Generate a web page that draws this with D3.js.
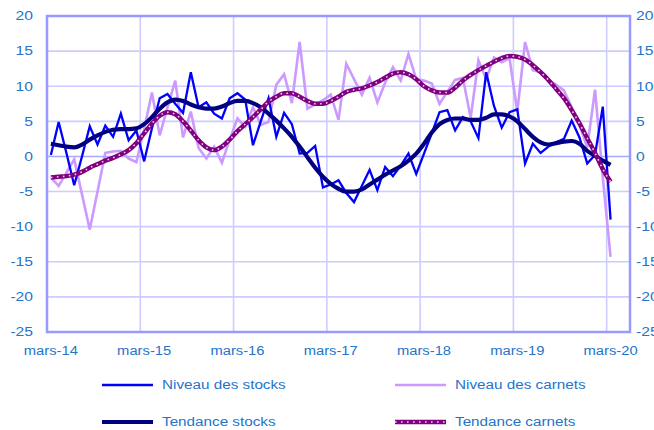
<!DOCTYPE html>
<html>
<head>
<meta charset="utf-8">
<script src="https://cdn.jsdelivr.net/npm/d3@7"></script>
<style>
  body { margin: 0; background: #fff; }
  text { font-family: "Liberation Sans", Arial, sans-serif; fill: #2474cc; }
</style>
</head>
<body>
<div id="chart"></div>
<script>
// mars-14 .. mai-20 on the axis, data stops at mars-20
const axisMonths = 75;
const tickLabels = ["mars-14", "mars-15", "mars-16", "mars-17", "mars-18", "mars-19", "mars-20"];
const yTicks = [20, 15, 10, 5, 0, -5, -10, -15, -20, -25];

const niveauStocks = [
  0.2, 4.9, 0.5, -4.1, 0.0, 4.3, 1.7, 4.4, 2.8, 6.1, 2.3, 3.7,
  -0.7, 4.0, 8.3, 8.9, 7.5, 6.2, 12.0, 7.0, 7.7, 6.1, 5.4, 8.3,
  9.0, 8.1, 1.6, 5.0, 8.3, 2.8, 6.2, 4.6, 0.4, 0.5, 1.5, -4.4,
  -4.0, -3.4, -5.2, -6.5, -4.2, -1.9, -4.8, -1.5, -2.8, -1.3, 0.4, -2.5,
  0.4, 3.3, 6.3, 6.6, 3.7, 5.6, 5.0, 2.6, 12.0, 7.2, 4.1, 6.3,
  6.7, -1.0, 1.8, 0.5, 1.4, 2.0, 2.5, 5.1, 2.7, -1.0, 0.2, 7.1,
  -9.0
];

const niveauCarnets = [
  -3.0, -4.2, -2.3, -0.4, -5.4, -10.4, -5.0, 0.5, 0.7, 0.8, -0.3, -0.8,
  3.9, 9.1, 3.0, 7.0, 10.8, 2.7, 6.4, 1.2, -0.3, 1.4, -0.9, 2.4,
  5.4, 4.2, 7.0, 4.5, 4.9, 10.2, 11.7, 7.6, 16.3, 6.8, 7.4, 8.0,
  8.8, 5.2, 13.2, 11.0, 8.8, 11.2, 7.7, 10.5, 12.7, 10.8, 14.6, 11.0,
  10.8, 10.4, 7.5, 9.2, 10.9, 11.2, 5.5, 13.7, 11.0, 14.1, 13.4, 14.0,
  6.4, 16.3, 12.3, 12.0, 10.9, 10.2, 9.4, 7.0, 4.5, 1.3, 9.5, -3.0,
  -14.3
];

const tendanceStocks = [
  1.8, 1.6, 1.4, 1.3, 1.7, 2.4, 3.0, 3.5, 3.8, 3.9, 3.9, 4.0,
  4.6, 5.6, 6.8, 7.7, 8.1, 7.9, 7.4, 7.0, 6.8, 6.8, 7.1, 7.6,
  7.9, 7.9, 7.6, 7.0, 6.1, 5.1, 4.0, 2.8, 1.4, -0.1, -1.6, -2.9,
  -3.9, -4.6, -5.0, -5.0, -4.7, -4.0, -3.3, -2.6, -2.0, -1.4, -0.6, 0.4,
  1.8, 3.4, 4.6, 5.2, 5.4, 5.4, 5.2, 5.2, 5.5, 6.0, 6.0, 5.7,
  5.0, 3.9, 2.8, 2.0, 1.7, 1.9, 2.1, 2.2, 1.8, 0.8, 0.1, -0.6,
  -1.2
];

const tendanceCarnets = [
  -3.0, -2.9, -2.8, -2.6, -2.2, -1.6, -1.1, -0.6, -0.2, 0.3, 0.9, 1.9,
  3.3, 4.7, 5.8, 6.3, 6.0, 5.0, 3.7, 2.3, 1.3, 0.9, 1.4, 2.4,
  3.6, 4.6, 5.6, 6.7, 7.8, 8.5, 9.0, 9.0, 8.5, 7.9, 7.5, 7.5,
  7.9, 8.5, 9.2, 9.5, 9.7, 10.1, 10.6, 11.2, 11.8, 12.0, 11.7, 11.0,
  10.0, 9.4, 9.1, 9.1, 9.8, 10.8, 11.6, 12.3, 12.9, 13.5, 14.0, 14.3,
  14.2, 13.8, 13.0, 12.0, 10.9, 9.6, 8.3, 6.6, 4.7, 2.6, 0.5, -1.8,
  -3.6
];

const width = 654;
const height = 430;
const margin = { top: 16, right: 24, bottom: 98, left: 47 };

const svg = d3.select("#chart")
  .append("svg")
  .attr("width", width)
  .attr("height", height);

const x = d3.scaleBand()
  .domain(d3.range(axisMonths))
  .range([margin.left, width - margin.right])
  .paddingInner(0)
  .paddingOuter(0);

const y = d3.scaleLinear()
  .domain([-25, 20])
  .range([height - margin.bottom, margin.top]);

const cx = i => x(i) + x.bandwidth() / 2;

// stretch text a bit wider, the original is horizontally scaled
function stretch(sel, k) {
  sel.each(function () {
    const w = this.getComputedTextLength();
    d3.select(this)
      .attr("textLength", w * k)
      .attr("lengthAdjust", "spacingAndGlyphs");
  });
}

// gridlines
svg.append("g")
  .selectAll("line")
  .data(yTicks.filter(v => v !== 20 && v !== -25 && v !== 0))
  .join("line")
  .attr("x1", margin.left)
  .attr("x2", width - margin.right)
  .attr("y1", d => y(d))
  .attr("y2", d => y(d))
  .attr("stroke", "#ccccff")
  .attr("stroke-width", 1.6);

svg.append("g")
  .selectAll("line")
  .data(tickLabels.map((t, k) => k * 12).filter(i => i > 0))
  .join("line")
  .attr("x1", d => x(d))
  .attr("x2", d => x(d))
  .attr("y1", margin.top)
  .attr("y2", height - margin.bottom)
  .attr("stroke", "#ccccff")
  .attr("stroke-width", 1.6);

// zero axis line
svg.append("line")
  .attr("x1", margin.left)
  .attr("x2", width - margin.right)
  .attr("y1", y(0))
  .attr("y2", y(0))
  .attr("stroke", "#a8a8ff")
  .attr("stroke-width", 1.6);

// frame
svg.append("rect")
  .attr("x", margin.left)
  .attr("y", margin.top)
  .attr("width", width - margin.left - margin.right)
  .attr("height", height - margin.top - margin.bottom)
  .attr("fill", "none")
  .attr("stroke", "#9999ff")
  .attr("stroke-width", 2.5);

// y labels left and right
const yl = svg.append("g")
  .selectAll("text")
  .data(yTicks)
  .join("text")
  .attr("x", 33)
  .attr("y", d => y(d))
  .attr("dy", "0.35em")
  .attr("text-anchor", "end")
  .style("font-size", "12.5px")
  .text(d => d);
stretch(yl, 1.25);

const yr = svg.append("g")
  .selectAll("text")
  .data(yTicks)
  .join("text")
  .attr("x", 636)
  .attr("y", d => y(d))
  .attr("dy", "0.35em")
  .attr("text-anchor", "start")
  .style("font-size", "12.5px")
  .text(d => d);
stretch(yr, 1.25);

// x labels
const xl = svg.append("g")
  .selectAll("text")
  .data(tickLabels)
  .join("text")
  .attr("x", (d, k) => cx(k * 12))
  .attr("y", 355)
  .attr("text-anchor", "middle")
  .style("font-size", "12.5px")
  .text(d => d);
stretch(xl, 1.18);

// series
const line = d3.line()
  .x((d, i) => cx(i))
  .y(d => y(d));

const smooth = d3.line()
  .x((d, i) => cx(i))
  .y(d => y(d))
  .curve(d3.curveMonotoneX);

svg.append("path")
  .datum(niveauCarnets)
  .attr("d", line)
  .attr("fill", "none")
  .attr("stroke", "#cc99ff")
  .attr("stroke-width", 2.6);

svg.append("path")
  .datum(niveauStocks)
  .attr("d", line)
  .attr("fill", "none")
  .attr("stroke", "#0000ff")
  .attr("stroke-width", 2.3);

svg.append("path")
  .datum(tendanceStocks)
  .attr("d", smooth)
  .attr("fill", "none")
  .attr("stroke", "#000080")
  .attr("stroke-width", 4.2);

svg.append("path")
  .datum(tendanceCarnets)
  .attr("d", smooth)
  .attr("fill", "none")
  .attr("stroke", "#800080")
  .attr("stroke-width", 4.5);

svg.append("path")
  .datum(tendanceCarnets)
  .attr("d", smooth)
  .attr("fill", "none")
  .attr("stroke", "#ecd0ec")
  .attr("stroke-width", 1.6)
  .attr("stroke-dasharray", "1.6,4.4");

// legend
const legendItems = [
  { name: "Niveau des stocks", color: "#0000ff", w: 2.3, x: 102, y: 385 },
  { name: "Niveau des carnets", color: "#cc99ff", w: 2.6, x: 395, y: 385 },
  { name: "Tendance stocks", color: "#000080", w: 4.2, x: 102, y: 422 },
  { name: "Tendance carnets", color: "#800080", w: 4.5, x: 395, y: 422, dots: true }
];

const lg = svg.append("g")
  .selectAll("g")
  .data(legendItems)
  .join("g")
  .attr("transform", d => `translate(${d.x},${d.y})`);

lg.append("line")
  .attr("x1", 0)
  .attr("x2", 51)
  .attr("stroke", d => d.color)
  .attr("stroke-width", d => d.w);

lg.filter(d => d.dots)
  .append("line")
  .attr("x1", 0)
  .attr("x2", 51)
  .attr("stroke", "#ecd0ec")
  .attr("stroke-width", 1.6)
  .attr("stroke-dasharray", "1.6,4.4");

const lt = lg.append("text")
  .attr("x", 60)
  .attr("dy", "0.35em")
  .style("font-size", "12.5px")
  .text(d => d.name);
stretch(lt, 1.22);
</script>
</body>
</html>
